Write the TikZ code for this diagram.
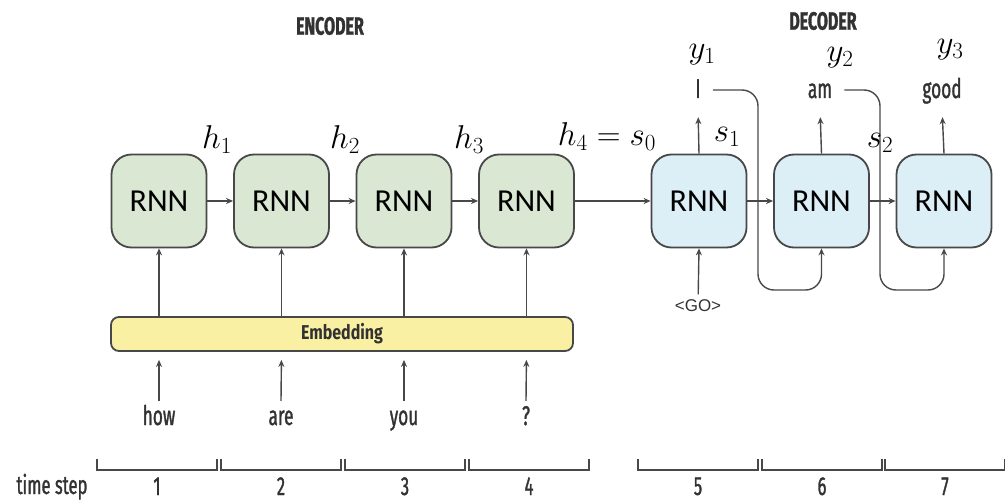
\RequirePackage{fix-cm}
\documentclass[tikz,border=0pt]{standalone}
\usepackage{fontspec}
\setmainfont{Carlito}
\newfontfamily\condfont[FakeStretch=0.64,FakeBold=1.2]{Fira Sans}
\newfontfamily\embfont[FakeStretch=0.8]{Fira Sans}
\newfontfamily\gofont{Liberation Sans}
\usetikzlibrary{arrows.meta}
\definecolor{encfill}{RGB}{218,231,211}
\definecolor{decfill}{RGB}{220,238,246}
\definecolor{embfill}{RGB}{250,240,164}
\definecolor{linegray}{RGB}{72,72,72}
\definecolor{textgray}{RGB}{50,50,50}
\tikzset{node distance=122.5pt, auto,
  >={Stealth[length=7pt,width=6pt]},
  rnn/.style={draw=linegray, line width=1.8pt, rounded corners=20pt,
    minimum width=95pt, minimum height=93pt, font=\fontsize{32}{32}\selectfont},
  enc/.style={rnn, fill=encfill},
  dec/.style={rnn, fill=decfill},
  emb/.style={draw=linegray, line width=1.8pt, fill=embfill, rounded corners=8pt,
    minimum width=462pt, minimum height=34pt, text=textgray,
    font=\embfont\bfseries\fontsize{20}{20}\selectfont},
  word/.style={text=textgray, inner sep=4pt, text height=20pt, text depth=6pt,
    font=\condfont\fontsize{27}{27}\selectfont},
  num/.style={text=textgray, inner sep=0pt, anchor=base,
    font=\condfont\fontsize{26}{26}\selectfont},
  head/.style={text=textgray, inner sep=1pt, font=\condfont\bfseries\fontsize{25}{25}\selectfont},
  small/.style={text=textgray, font=\gofont\fontsize{17}{17}\selectfont},
  lab/.style={inner sep=1pt, font=\fontsize{33}{33}\selectfont},
  conn/.style={draw=linegray, line width=1.4pt}
}

\begin{document}
\begin{tikzpicture}[x=1pt,y=-1pt]
\useasboundingbox (0,0) rectangle (1005,500);
% encoder
\node[head] (enc) at (330,26) {ENCODER};
\node[enc] (E1) at (159,201) {RNN};
\node[enc, right of=E1] (E2) {RNN};
\node[enc, right of=E2] (E3) {RNN};
\node[enc, right of=E3] (E4) {RNN};
\node[emb] (Em) at (342,334) {Embedding};
\node[word, anchor=base] (w1) at (159,425) {how};
\node[word, anchor=base] (w2) at (281,425) {are};
\node[word, anchor=base] (w3) at (404,425) {you};
\node[word, anchor=base] (w4) at (526,425) {?};
\foreach \i in {1,...,4} {
  \draw[conn,->] (E\i |- Em.north) -- (E\i.south);
  \draw[conn,->,shorten >=8pt] (w\i.north) -- (E\i |- Em.south);
}
\draw[conn,->] (E1) -- (E2);
\draw[conn,->] (E2) -- (E3);
\draw[conn,->] (E3) -- (E4);
% decoder
\node[head] (dec) at (823,21) {DECODER};
\node[dec] (D1) at (699,201) {RNN};
\node[dec, right of=D1] (D2) {RNN};
\node[dec, right of=D2] (D3) {RNN};
\draw[conn,->] (E4) -- (D1);
\draw[conn,->] (D1) -- (D2);
\draw[conn,->] (D2) -- (D3);
\node[small] (go) at (698,306) {<GO>};
\draw[conn,->,shorten <=2pt] (go) -- (D1.south);
\node[word, anchor=base] (o1) at (698,98) {I};
\node[word, anchor=base] (o2) at (820,98) {am};
\node[word, anchor=base] (o3) at (942,98) {good};
\draw[conn,->,shorten >=9pt] (D1.north) -- (o1.south);
\draw[conn,->,shorten >=9pt] (D2.north) -- (o2.south);
\draw[conn,->,shorten >=9pt] (D3.north) -- (o3.south);
\coordinate (L1) at (758,290);
\coordinate (L2) at (880,290);
\draw[conn,->,rounded corners=16pt] ([xshift=8pt]o1.east |- 0,90) -| (L1) -| (D2.south);
\draw[conn,->,rounded corners=16pt] ([xshift=8pt]o2.east |- 0,90) -| (L2) -| (D3.south);
% states and outputs
\node[lab] (h1) at (217,140) {$h_1$};
\node[lab] (h2) at (345,140) {$h_2$};
\node[lab] (h3) at (469,140) {$h_3$};
\node[lab] (h4) at (607,137) {$h_4=s_0$};
\node[lab] (s1) at (727,137) {$s_1$};
\node[lab] (s2) at (880,143) {$s_2$};
\node[lab] (y1) at (702,55) {$y_1$};
\node[lab] (y2) at (840,58) {$y_2$};
\node[lab] (y3) at (950,50) {$y_3$};
% time steps
\node[num] (ts) at (52,494) {time step};
\foreach \c/\n in {157/1,281/2,405/3,529/4,698/5,822/6,945/7} {
  \draw[conn] (\c-60,459) -- (\c-60,470) -- (\c+60,470) -- (\c+60,459);
  \node[num] (t\n) at (\c,495) {\n};
}
\end{tikzpicture}
\end{document}
